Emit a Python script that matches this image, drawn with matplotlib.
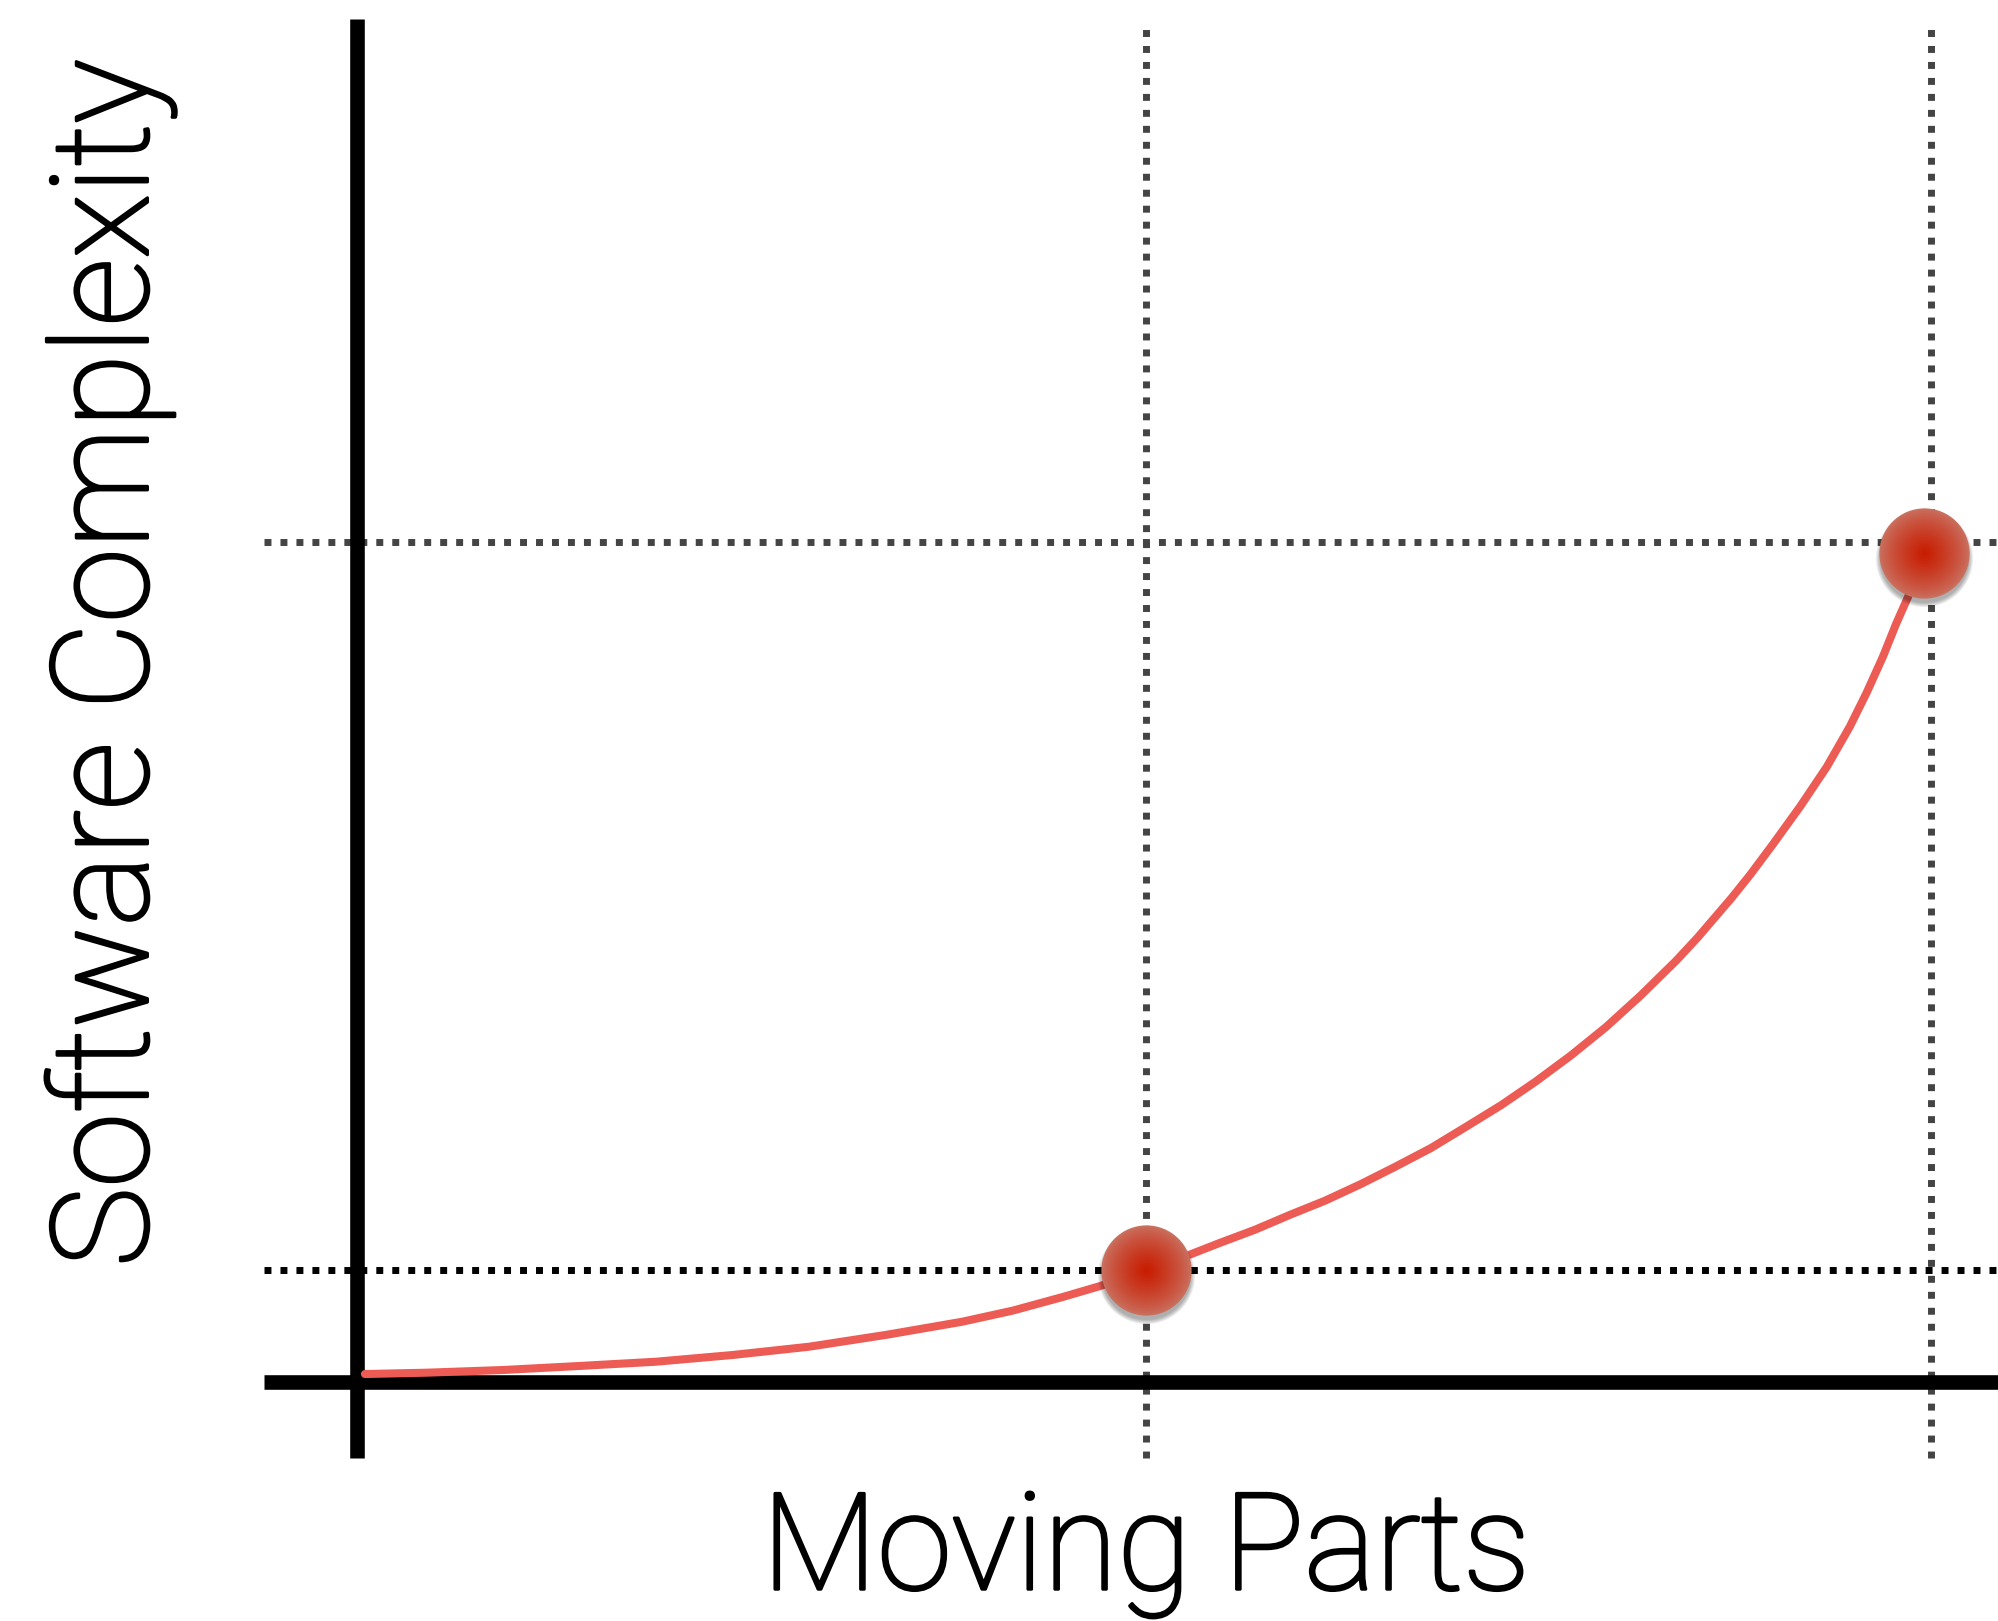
import matplotlib.pyplot as plt
import matplotlib.transforms as mtransforms
import matplotlib.patheffects as pe
import numpy as np
from matplotlib.colors import to_rgb

# Kurve: Moving Parts (x) gegen Software Complexity (y)
parts = [0.010, 0.088, 0.185, 0.282, 0.379, 0.476, 0.573, 0.670, 0.767, 0.831,
         0.896, 0.942, 1.0, 1.054, 1.094, 1.138, 1.183, 1.227, 1.272, 1.316,
         1.361, 1.405, 1.450, 1.494, 1.539, 1.583, 1.627, 1.672, 1.699, 1.742,
         1.766, 1.795, 1.829, 1.863, 1.892, 1.913, 1.934, 1.951, 1.966, 1.975]
complexity = [0.071, 0.083, 0.107, 0.143, 0.181, 0.241, 0.315, 0.420, 0.538, 0.637,
              0.762, 0.857, 1.0, 1.133, 1.243, 1.359, 1.494, 1.619, 1.766, 1.922,
              2.088, 2.276, 2.471, 2.683, 2.918, 3.169, 3.451, 3.762, 3.967, 4.320,
              4.531, 4.805, 5.137, 5.494, 5.851, 6.149, 6.476, 6.774, 7.012, 7.16]

# markierte Punkte
point_x = [1.0, 1.986]
point_y = [1.0, 7.40]

# gestrichelte Hilfslinien
guide_x = [1.0, 1.995]
guide_y = [1.0, 7.5]
guide_y_colors = ['#000000', '#444444']

xlabel = 'Moving Parts'
ylabel = 'Software Complexity'

plt.rcParams['font.family'] = ['Roboto', 'Lato', 'DejaVu Sans']

fig = plt.figure(figsize=(19.99, 16.21), dpi=100)
ax = fig.add_axes([0, 0, 1, 1])
ax.set_xlim(-0.4525, 2.0811)
ax.set_ylim(-2.134, 12.339)
ax.axis('off')

dots = (0, (1, 1.3))
for gx in guide_x:
    ax.axvline(gx, ymin=0.1006, ymax=0.9846, color='#444444', lw=5.0,
               linestyle=dots, dash_capstyle='butt', zorder=1)
for gy, c in zip(guide_y, guide_y_colors):
    ax.axhline(gy, xmin=0.132, xmax=1.0, color=c, lw=5.0,
               linestyle=dots, dash_capstyle='butt', zorder=1)

# Achsen
ax.axvline(0, ymin=0.1006, ymax=0.988, color='black', lw=10.5,
           solid_capstyle='butt', zorder=2)
ax.axhline(0, xmin=0.132, xmax=1.0, color='black', lw=10.5,
           solid_capstyle='butt', zorder=2)

# Kurve
ax.plot(parts, complexity, color='#ec5b54', lw=5.8, solid_capstyle='round',
        solid_joinstyle='round', zorder=3)

# Schatten unter den Punkten
shadow = mtransforms.offset_copy(ax.transData, fig=fig, x=0, y=-5, units='dots')
for k in range(6):
    ax.scatter(point_x, point_y, s=(64 + k * 1.2) ** 2, color='black',
               alpha=0.06, lw=0, transform=shadow, zorder=4)

# Punkte mit radialem Verlauf
edge = np.array(to_rgb('#c9705f'))
center = np.array(to_rgb('#c81c00'))
n = 30
for i in range(n):
    t = i / (n - 1)
    d = 63 * (1 - t) + 2
    c = edge + (center - edge) * t ** 0.8
    ax.scatter(point_x, point_y, s=d ** 2, color=c, lw=0, zorder=5)

thick = [pe.withStroke(linewidth=2.2, foreground='black')]
ax.text(1.0, -1.85, xlabel, ha='center', va='baseline', fontsize=97,
        fontweight='light', color='black', path_effects=thick)
ax.text(-0.3125, 6.42, ylabel, ha='center', va='center', rotation=90,
        fontsize=97, fontweight='light', color='black', path_effects=thick)

fig.savefig('out.png', dpi=100)
